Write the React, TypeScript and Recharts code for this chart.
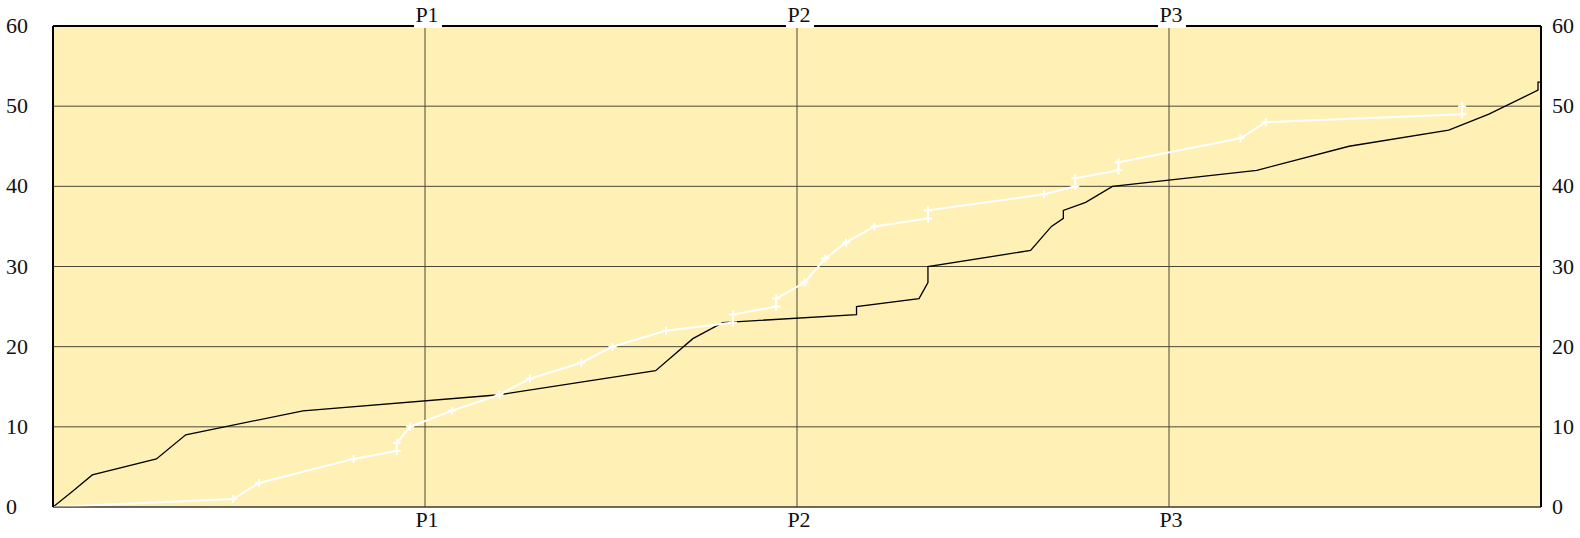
import React from "react";
import { LineChart, Line, XAxis, YAxis, CartesianGrid } from "recharts";

// black cumulative line
const blackX = [0, 1.34, 2.64, 6.95, 8.92, 16.8, 30.0, 40.5, 43.0, 45.0, 54.0, 54.0, 58.2, 58.8, 58.8, 65.7, 67.1, 67.9, 67.9, 69.4, 71.2, 80.9, 87.1, 93.8, 96.5, 99.8, 99.8, 100];
const blackY = [0, 2, 4, 6, 9, 12, 14, 17, 21, 23, 24, 25, 26, 28, 30, 32, 35, 36, 37, 38, 40, 42, 45, 47, 49, 52, 53, 53];

// white line with + markers
const whiteX = [0, 12.1, 13.85, 20.2, 23.1, 23.1, 24.0, 26.8, 30.0, 32.05, 35.5, 37.6, 41.2, 45.7, 45.7, 48.6, 48.6, 50.5, 51.9, 53.3, 55.2, 58.8, 58.8, 66.6, 68.7, 68.7, 71.6, 71.6, 79.8, 81.5, 94.7, 94.7];
const whiteY = [0, 1, 3, 6, 7, 8, 10, 12, 14, 16, 18, 20, 22, 23, 24, 25, 26, 28, 31, 33, 35, 36, 37, 39, 40, 41, 42, 43, 46, 48, 49, 50];

const xTicks = [25, 50, 75];
const xTickLabels = ["P1", "P2", "P3"];
const yTicks = [0, 10, 20, 30, 40, 50, 60];

const blackData = blackX.map((x, i) => ({ x, y: blackY[i] }));
const whiteData = whiteX.map((x, i) => ({ x, y: whiteY[i] }));

const txt: React.CSSProperties = {
  fontFamily: '"Liberation Serif", "Times New Roman", serif',
  fontSize: 22,
};
const labelOf = (v: number) => xTickLabels[xTicks.indexOf(v)] ?? "";

const TopTick = (p: any) => (
  <g>
    <rect x={p.x - 11} y={4} width={28} height={24} fill="#fff" />
    <text x={p.x + 2} y={p.y + 4} textAnchor="middle" style={txt} fill="#111">
      {labelOf(p.payload.value)}
    </text>
  </g>
);

const BottomTick = (p: any) => (
  <text x={p.x + 2} y={p.y + 12} textAnchor="middle" style={txt} fill="#111">
    {labelOf(p.payload.value)}
  </text>
);

const LeftTick = (p: any) => (
  <text x={6} y={p.y + 7} textAnchor="start" style={txt} fill="#111">
    {p.payload.value}
  </text>
);

const RightTick = (p: any) => (
  <text x={p.x + 3} y={p.y + 7} textAnchor="start" style={txt} fill="#111">
    {p.payload.value}
  </text>
);

const PlusDot = (p: any) => {
  if (p.index === 0) return <g key={p.key} />;
  return (
    <path
      key={p.key}
      d={`M${p.cx - 4},${p.cy}h8M${p.cx},${p.cy - 4}v8`}
      stroke="#fff"
      strokeWidth={2}
      fill="none"
    />
  );
};

export default function App() {
  return (
    <div style={{ position: "absolute", left: 0, top: 0, background: "#fff" }}>
      <LineChart width={1580} height={538} margin={{ top: 0, right: 0, bottom: 0, left: 0 }}>
        <CartesianGrid fill="#FFF1B5" stroke="#4a4636" strokeWidth={1} />
        <XAxis
          dataKey="x" type="number" domain={[0, 100]} ticks={xTicks}
          height={31} tickLine={false} axisLine={{ stroke: "#333", strokeWidth: 1 }}
          tick={<BottomTick />} allowDataOverflow
        />
        <XAxis
          xAxisId="top" orientation="top" dataKey="x" type="number" domain={[0, 100]} ticks={xTicks}
          height={26} tickLine={false} axisLine={{ stroke: "#000", strokeWidth: 2 }}
          tick={<TopTick />} allowDataOverflow
        />
        <YAxis
          type="number" domain={[0, 60]} ticks={yTicks} width={53}
          tickLine={false} axisLine={{ stroke: "#000", strokeWidth: 2 }}
          tick={<LeftTick />} allowDataOverflow
        />
        <YAxis
          yAxisId="r" orientation="right" type="number" domain={[0, 60]} ticks={yTicks} width={39}
          tickLine={false} axisLine={{ stroke: "#000", strokeWidth: 2 }}
          tick={<RightTick />} allowDataOverflow
        />
        <Line
          data={blackData} dataKey="y" type="linear" stroke="#000" strokeWidth={1.3}
          dot={false} activeDot={false} isAnimationActive={false}
        />
        <Line
          data={whiteData} dataKey="y" type="linear" stroke="#fff" strokeWidth={2}
          dot={<PlusDot />} activeDot={false} isAnimationActive={false}
        />
      </LineChart>
    </div>
  );
}
